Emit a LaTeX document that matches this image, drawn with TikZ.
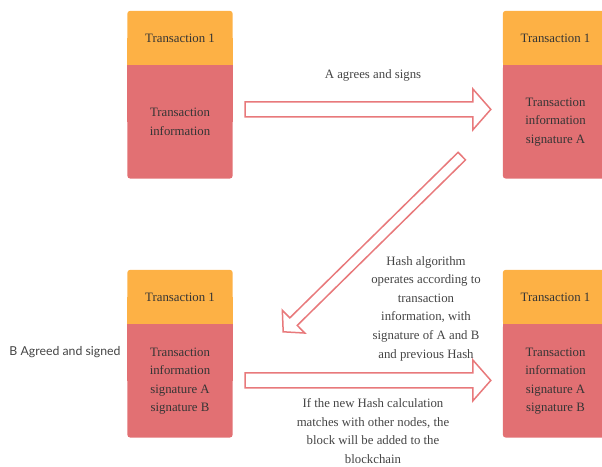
\documentclass[tikz,border=0pt]{standalone}
\usepackage{fontspec}
\setmainfont{Liberation Serif}
\newfontfamily\boxserif{Liberation Serif}
\newfontfamily\labelsans{Lato}
\usetikzlibrary{calc}

\pgfdeclarelayer{bg}
\pgfsetlayers{bg,main}

\definecolor{hdrfill}{HTML}{FDB145}
\definecolor{bodyfill}{HTML}{E27073}
\definecolor{arrowline}{HTML}{E8797B}
\definecolor{inktext}{HTML}{353535}
\definecolor{notetext}{HTML}{444444}

\tikzset{
  boxtext/.style={inner sep=0pt, text=inktext, align=center,
    font=\boxserif\fontsize{12.8}{18.5}\selectfont},
  hdr/.style={boxtext, minimum width=105, minimum height=54},
  body/.style={boxtext, minimum width=105, minimum height=113, anchor=north},
  note/.style={inner sep=0pt, text=notetext, align=center,
    font=\boxserif\fontsize{12.8}{18.6}\selectfont},
  sidenote/.style={inner sep=0pt, text=notetext,
    font=\labelsans\fontsize{12.3}{15}\selectfont},
  arrowbox/.style={draw=arrowline, fill=white, line width=1.5pt, line join=miter},
}

% block arrow: #1 id, #2 tail, #3 tip, #4 half body width,
% #5 half head width, #6 head length
\newcommand{\blockarrow}[6]{%
  \coordinate (#1base) at ($(#3)!#6!(#2)$);
  \draw[arrowbox] ($(#2)!#4!90:(#3)$) -- ($(#1base)!#4!90:(#3)$)
    -- ($(#1base)!#5!90:(#3)$) -- (#3) -- ($(#1base)!#5!-90:(#3)$)
    -- ($(#1base)!#4!-90:(#3)$) -- ($(#2)!#4!-90:(#3)$) -- cycle;
}

\begin{document}
\begin{tikzpicture}[x=1pt, y=-1pt]
  \clip (0,0) rectangle (602,466);
  \useasboundingbox (0,0) rectangle (602,466);

  % transaction blocks: header and body
  \node[hdr] (h1) at (180,38) {Transaction 1};
  \node[body] (b1) at (h1.south) {Transaction\\information};

  \node[hdr] (h2) at (555.5,38) {Transaction 1};
  \node[body] (b2) at (h2.south) {Transaction\\information\\signature A};

  \node[hdr] (h3) at (180,297) {Transaction 1};
  \node[body] (b3) at (h3.south) {Transaction\\information\\signature A\\signature B};

  \node[hdr] (h4) at (555.5,297) {Transaction 1};
  \node[body] (b4) at (h4.south) {Transaction\\information\\signature A\\signature B};

  % block fills, rounded on the outer corners only
  \begin{pgfonlayer}{bg}
    \foreach \n in {1,2,3,4}{
      \fill[hdrfill, rounded corners=3] (h\n.south west) rectangle (h\n.north east);
      \fill[hdrfill] (h\n.south west) rectangle (h\n.east);
      \fill[bodyfill, rounded corners=3] (b\n.south west) rectangle (b\n.north east);
      \fill[bodyfill] (b\n.north west) rectangle (b\n.east);
    }
  \end{pgfonlayer}

  % arrow end points
  \coordinate (a1s) at ($(b1.east)+(12.5,-12.5)$);
  \coordinate (a1e) at ($(b2.west)+(-12,-12.5)$);
  \coordinate (a2s) at ($(b2.south west)+(-41,-22.5)$);
  \coordinate (a2e) at ($(h3.north east)+(50.5,62)$);
  \coordinate (a3s) at ($(b3.east)+(12.5,-0.5)$);
  \coordinate (a3e) at ($(b4.west)+(-12,-0.5)$);

  \blockarrow{top}{a1s}{a1e}{7.5pt}{20.5pt}{18pt}
  \blockarrow{diag}{a2s}{a2e}{5.3pt}{16pt}{14.5pt}
  \blockarrow{low}{a3s}{a3e}{7.5pt}{20.5pt}{18pt}

  % labels
  \node[note] (lab1) at (373,75) {A agrees and signs};
  \node[note] (lab2) at (426,308.5) {Hash algorithm\\operates according to\\transaction\\information, with\\signature of A and B\\and previous Hash};
  \node[note] (lab3) at (373,431) {If the new Hash calculation\\matches with other nodes, the\\block will be added to the\\blockchain};
  \node[sidenote] (lab4) at (65,352) {B Agreed and signed};
\end{tikzpicture}
\end{document}
